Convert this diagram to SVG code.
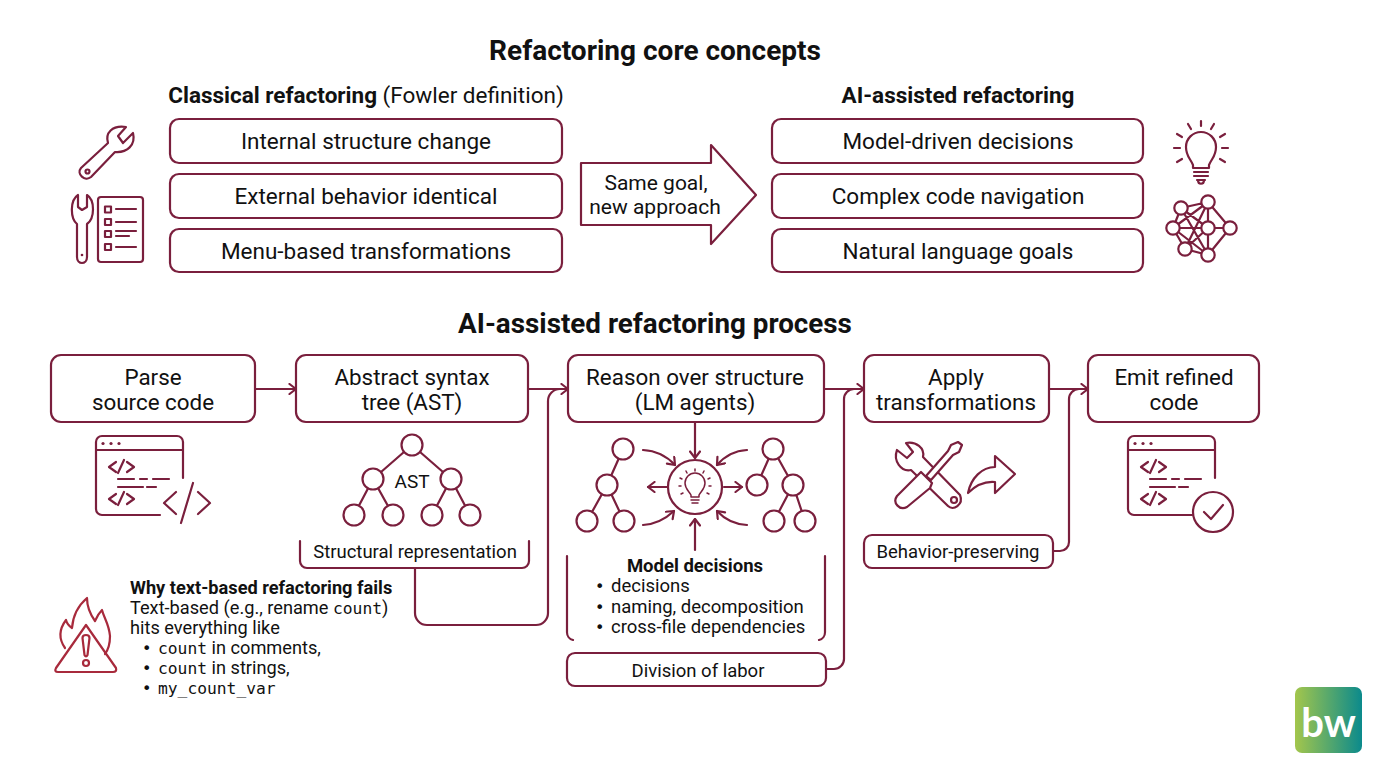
<svg xmlns="http://www.w3.org/2000/svg" width="1376" height="768" viewBox="0 0 1376 768">
<style>
text{font-family:Roboto,"Liberation Sans",sans-serif;fill:#111;text-anchor:middle}
.h{font-size:28px;font-weight:700}
.b{font-size:22.5px;font-weight:400}
.sub{font-size:22.5px}
.bd{font-weight:700}
.p{font-size:22.4px}
.s{font-size:18.5px}
.n{font-size:18.2px;text-anchor:start}
.st{text-anchor:start}
.dot{font-family:"DejaVu Sans",sans-serif;font-size:16px;text-anchor:start}
.m{font-family:"DejaVu Sans Mono","Liberation Mono",monospace;font-size:16.3px}
.box{fill:#fff;stroke:#7a1f3d;stroke-width:2.2}
.ln{fill:none;stroke:#7a1f3d;stroke-width:2.2;stroke-linecap:round;stroke-linejoin:round}
.ic{fill:none;stroke:#7a1f3d;stroke-width:2.2;stroke-linecap:round;stroke-linejoin:round}
.icw{fill:#fff;stroke:#7a1f3d;stroke-width:2.2;stroke-linecap:round;stroke-linejoin:round}
.thin{fill:none;stroke:#7a1f3d;stroke-width:1.5;stroke-linecap:round;stroke-linejoin:round}
.nd{fill:#fff;stroke:#7a1f3d;stroke-width:2.2}
.red{fill:none;stroke:#a82a3c;stroke-width:2.2;stroke-linecap:round;stroke-linejoin:round}
</style>
<defs>
<marker id="ah" viewBox="0 0 12 12" refX="10.5" refY="6" markerWidth="12" markerHeight="12" markerUnits="userSpaceOnUse" orient="auto"><path d="M4,1 L10.5,6 L4,11" fill="none" stroke="#7a1f3d" stroke-width="2.2" stroke-linecap="round" stroke-linejoin="round"/></marker>
<linearGradient id="lg" x1="0" x2="1" y1="0" y2="0"><stop offset="0" stop-color="#a3c64c"/><stop offset="1" stop-color="#0b8a8c"/></linearGradient>
<g id="win">
<path class="ic" d="M0,14 H87 M87,42 V6 a6,6 0 0 0 -6,-6 H6 a6,6 0 0 0 -6,6 V73 a6,6 0 0 0 6,6 H64"/>
<circle cx="7" cy="7.500" r="1.600" fill="#7a1f3d"/><circle cx="15" cy="7.500" r="1.600" fill="#7a1f3d"/><circle cx="23" cy="7.500" r="1.600" fill="#7a1f3d"/>
<path class="ic" d="M20,26 L13,31 L20,36 M28,24 L22,37 M31,26 L38,31 L31,36 M20,58 L13,63 L20,68 M28,56 L22,69 M31,58 L38,63 L31,68"/>
<path class="ic" d="M22,43 H38 M44,43 H51 M57,43 H73 M22,51 H47 M51,51 H60"/>
</g>
</defs>
<rect width="1376" height="768" fill="#fff"/>

<text class="h" x="655" y="60">Refactoring core concepts</text>
<text class="h" x="655" y="333" style="font-size:27.8px">AI-assisted refactoring process</text>

<g id="connectors">
<path class="ln" d="M255,389 H296" marker-end="url(#ah)"/>
<path class="ln" d="M528,389 H568" marker-end="url(#ah)"/>
<path class="ln" d="M415,569 V613 a12,12 0 0 0 12,12 H536 a12,12 0 0 0 12,-12 V401 a12,12 0 0 1 12,-12"/>
<path class="ln" d="M824,389 H864" marker-end="url(#ah)"/>
<path class="ln" d="M826,669 H834 a10,10 0 0 0 10,-10 V399 a10,10 0 0 1 10,-10"/>
<path class="ln" d="M1049,389 H1088" marker-end="url(#ah)"/>
<path class="ln" d="M1053,551 H1060 a9,9 0 0 0 9,-9 V399 a10,10 0 0 1 10,-10"/>
<path class="ln" d="M695,422 V458" marker-end="url(#ah)"/>
<path class="ln" d="M695,550 V519" marker-end="url(#ah)"/>
<path class="ln" d="M667,487 H648" marker-end="url(#ah)"/>
<path class="ln" d="M724,487 H742" marker-end="url(#ah)"/>
<path class="ln" d="M643,450 Q662,451 675,465" marker-end="url(#ah)"/>
<path class="ln" d="M747,450 Q729,451 717,465" marker-end="url(#ah)"/>
<path class="ln" d="M643,525 Q660,524 674,511" marker-end="url(#ah)"/>
<path class="ln" d="M747,525 Q729,524 717,511" marker-end="url(#ah)"/>
<path class="ln" d="M623,449 L607,485 L587,521 M607,485 L624,521"/>
<path class="ln" d="M773,449 L757,485 M773,449 L793,485 L774,521 M793,485 L805,521"/>
<path class="ln" d="M412,445 L373,479 L354,515 M373,479 L393,515 M412,445 L451,479 L432,515 M451,479 L470,515"/>
</g>

<g id="classical-head"><text class="sub" x="366" y="103"><tspan class="bd">Classical refactoring</tspan> (Fowler definition)</text></g>
<g id="c1"><rect class="box" x="170" y="119" width="392" height="44" rx="9"/><text class="b" x="366" y="149">Internal structure change</text></g>
<g id="c2"><rect class="box" x="170" y="174" width="392" height="44" rx="9"/><text class="b" x="366" y="204">External behavior identical</text></g>
<g id="c3"><rect class="box" x="170" y="229" width="392" height="43" rx="9"/><text class="b" x="366" y="258.500">Menu-based transformations</text></g>

<g id="ai-head"><text class="sub bd" x="958" y="103">AI-assisted refactoring</text></g>
<g id="a1"><rect class="box" x="772" y="119" width="371" height="44" rx="9"/><text class="b" x="958" y="149">Model-driven decisions</text></g>
<g id="a2"><rect class="box" x="772" y="174" width="371" height="44" rx="9"/><text class="b" x="958" y="204">Complex code navigation</text></g>
<g id="a3"><rect class="box" x="772" y="229" width="371" height="43" rx="9"/><text class="b" x="958" y="258.500">Natural language goals</text></g>

<g id="goal-arrow"><path class="box" stroke-linejoin="round" d="M581,163 H711 V145 L756,195 L711,244 V225 H581 Z"/>
<text x="656" y="190" style="font-size:21px">Same goal,</text><text x="655" y="214" style="font-size:21px">new approach</text></g>

<g id="icon-wrench">
<path class="ic" d="M81,168 L108,143 C105,133 112,125 126,127 L118,136 L123,143 L133,133 C136,145 127,153 115,152 L91,177 C85,182 76,174 81,168 Z"/><circle class="ic" cx="87.500" cy="171.500" r="2"/>
<path class="ic" d="M77,224 C70,218 70,200 78,195 V207 L82,210 L87,207 V195 C95,200 95,218 87,224 V257 C87,265 77,265 77,257 Z"/><circle cx="82" cy="255" r="1.300" fill="#7a1f3d"/>
</g>
<g id="icon-list">
<rect class="ic" x="98" y="197" width="45" height="65" rx="3"/>
<rect class="ic" x="105" y="206.500" width="6" height="6"/><rect class="ic" x="105" y="219" width="6" height="6"/><rect class="ic" x="105" y="231" width="6" height="6"/><rect class="ic" x="105" y="244" width="6" height="6"/>
<path class="ic" d="M116,209 H136 M116,222 H136 M116,231 H136 M116,236 H129 M116,247 H136"/>
</g>
<g id="icon-bulb">
<path class="ic" d="M1193,168 V165 C1190,158 1186,156 1186,147 A15,15 0 0 1 1216,147 C1216,156 1212,158 1209,165 V168 Z M1194,172 H1208 M1194,176 H1208 M1197,180 H1205 M1198,180 C1198,185 1204,185 1204,180"/>
<path class="ic" d="M1201,121 V126 M1188,124 L1191,129 M1214,124 L1211,129 M1177,134 L1182,137 M1225,134 L1220,137 M1174,148 H1180 M1222,148 H1228 M1177,162 L1182,159 M1225,162 L1220,159"/>
</g>
<g id="icon-net">
<path class="ic" d="M1181,208 L1208,202 M1181,208 L1208,228 M1181,208 L1208,255 M1208,202 L1208,228 M1208,202 L1230,228 M1208,202 L1173,228 M1208,202 L1185,249 M1173,228 L1208,228 M1173,228 L1208,255 M1173,228 L1181,208 M1185,249 L1208,228 M1185,249 L1208,255 M1185,249 L1173,228 M1208,228 L1230,228 M1208,228 L1208,255 M1208,255 L1230,228"/>
<g class="nd"><circle cx="1181" cy="208" r="6.700"/><circle cx="1208" cy="202" r="6.700"/><circle cx="1173" cy="228" r="6.700"/><circle cx="1208" cy="228" r="6.700"/><circle cx="1230" cy="228" r="6.700"/><circle cx="1185" cy="249" r="6.700"/><circle cx="1208" cy="255" r="6.700"/></g>
</g>

<g id="parse"><rect class="box" x="51" y="355" width="204" height="67" rx="10"/><text class="p" x="153" y="384.500">Parse</text><text class="p" x="153" y="409.500">source code</text></g>
<g id="ast"><rect class="box" x="296" y="355" width="232" height="67" rx="10"/><text class="p" x="412" y="384.500">Abstract syntax</text><text class="p" x="412" y="409.500">tree (AST)</text></g>
<g id="reason"><rect class="box" x="568" y="355" width="256" height="67" rx="10"/><text class="p" x="695" y="384.500">Reason over structure</text><text class="p" x="695" y="409.500">(LM agents)</text></g>
<g id="apply"><rect class="box" x="864" y="355" width="185" height="67" rx="10"/><text class="p" x="956" y="384.500">Apply</text><text class="p" x="956" y="409.500">transformations</text></g>
<g id="emit"><rect class="box" x="1088" y="355" width="171" height="67" rx="10"/><text class="p" x="1174" y="384.500">Emit refined</text><text class="p" x="1174" y="409.500">code</text></g>

<g id="icon-code1"><use href="#win" x="96" y="436"/>
<path class="ln" d="M176,492 L164,503 L176,514 M193,483 L181,523 M198,492 L210,503 L198,514"/></g>

<g id="ast-tree">
<g class="nd"><circle cx="412" cy="445" r="10.500"/><circle cx="373" cy="479" r="10.500"/><circle cx="451" cy="479" r="10.500"/><circle cx="354" cy="515" r="10.500"/><circle cx="393" cy="515" r="10.500"/><circle cx="432" cy="515" r="10.500"/><circle cx="470" cy="515" r="10.500"/></g>
<text x="412" y="488" style="font-size:19px">AST</text>
</g>
<g id="structural"><path class="ln" d="M300,541 V561 a7,7 0 0 0 7,7 H522 a7,7 0 0 0 7,-7 V541"/><text class="s" x="415" y="558">Structural representation</text></g>

<g id="llm-hub">
<circle class="nd" cx="695" cy="487" r="27"/>
<path class="thin" d="M691,497 V495 C689,491 685,489 685,483 A10,10 0 0 1 705,483 C705,489 701,491 699,495 V497 Z M691,500 H699 M692,503 H698 M695,469 V471 M686,471 L687,473 M704,471 L703,473 M680,478 L682,479 M710,478 L708,479 M679,486 H681 M709,486 H711 M681,494 L683,493 M709,494 L707,493"/>
</g>
<g id="tree-left" class="nd"><circle cx="623" cy="449" r="10.500"/><circle cx="607" cy="485" r="10.500"/><circle cx="587" cy="521" r="10.500"/><circle cx="624" cy="521" r="10.500"/></g>
<g id="tree-right" class="nd"><circle cx="773" cy="449" r="10.500"/><circle cx="757" cy="485" r="10.500"/><circle cx="793" cy="485" r="10.500"/><circle cx="774" cy="521" r="10.500"/><circle cx="805" cy="521" r="10.500"/></g>

<g id="model-decisions">
<path class="ln" d="M567,556 V632 a8,8 0 0 0 6,8 M825,556 V632 a8,8 0 0 1 -6,8"/>
<text class="s bd" x="695" y="572">Model decisions</text>
<text class="dot" x="595" y="592">•</text><text class="s st" x="611" y="592">decisions</text>
<text class="dot" x="595" y="613">•</text><text class="s st" x="611" y="613">naming, decomposition</text>
<text class="dot" x="595" y="633">•</text><text class="s st" x="611" y="633">cross-file dependencies</text>
</g>
<g id="division"><rect class="box" x="567" y="653" width="259" height="33" rx="8"/><text class="s" x="698" y="677">Division of labor</text></g>

<g id="icon-tools">
<path class="icw" d="M897,450 L907,458 L913,452 L906,443 C916,441 925,448 923,457 L960,495 C964,505 953,511 948,506 L911,470 C901,472 893,461 897,450 Z"/>
<circle class="ic" cx="954" cy="500" r="3"/>
<path class="icw" d="M926,476 L948,451 L951,445 L958,442 L962,445 L959,452 L953,455 L931,480 Z"/>
<path class="icw" d="M921,472 L932,483 L930,488 L907,507 C900,511 892,503 897,496 L917,476 Z"/>
<path class="ic" d="M968,493 C971,478 982,467 995,467 V456 L1015,474 L995,493 V482 C984,481 976,485 968,493 Z"/>
</g>
<g id="behavior"><rect class="box" x="864" y="535" width="189" height="33" rx="8"/><text class="s" x="958" y="558">Behavior-preserving</text></g>

<g id="icon-code2"><use href="#win" x="1128" y="436"/>
<circle class="ic" cx="1213" cy="512" r="20"/><path class="ic" d="M1204,512 L1211,519 L1223,505"/></g>

<g id="warning">
<path class="red" d="M86,625 L116,668 Q117,672 113,672 H58 Q54,672 56,668 Z"/>
<path class="red" d="M82.500,638 Q82.500,635 86,635 Q89.500,635 89.500,638 L87.500,655 Q86,658 84.500,655 Z"/>
<circle class="red" cx="86" cy="663" r="3"/>
<path class="red" d="M65,648 C58,638 60,628 66,620 C67,624 69,626 72,628 C73,614 80,604 87,598 C87,607 90,614 95,621 C97,616 100,612 102,610 C104,618 109,624 110,636 C110,644 108,650 105,654"/>
</g>
<g id="why">
<text class="n bd" x="130" y="594">Why text-based refactoring fails</text>
<text class="n" x="130" y="613.500">Text-based (e.g., rename <tspan class="m">count</tspan>)</text>
<text class="n" x="130" y="633.500">hits everything like</text>
<text class="dot" x="142" y="653.500">•</text><text class="n" x="158" y="653.500"><tspan class="m">count</tspan> in comments,</text>
<text class="dot" x="142" y="673.500">•</text><text class="n" x="158" y="673.500"><tspan class="m">count</tspan> in strings,</text>
<text class="dot" x="142" y="693.500">•</text><text class="n" x="158" y="693.500"><tspan class="m">my_count_var</tspan></text>
</g>

<g id="logo"><rect x="1295" y="687" width="67" height="66" rx="7" fill="url(#lg)"/><text x="1328.500" y="737" style="fill:#fff;font-size:40px;font-weight:700;font-family:Lato,Roboto,sans-serif">bw</text></g>
</svg>
